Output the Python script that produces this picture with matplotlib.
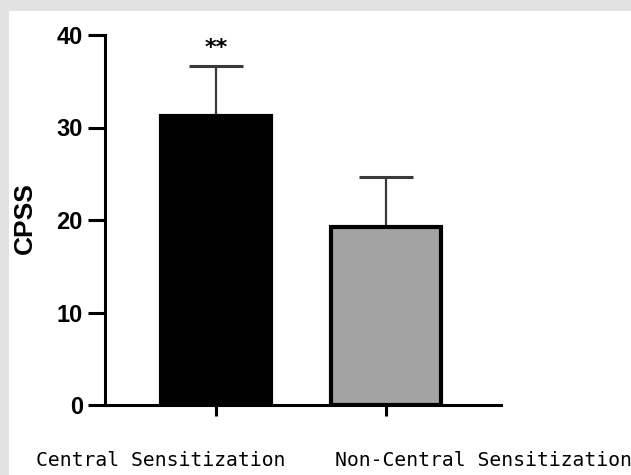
import matplotlib
matplotlib.use("Agg")
import matplotlib.pyplot as plt
import matplotlib.transforms as mtransforms
from matplotlib.patches import Rectangle

categories = ["Central Sensitization", "Non-Central Sensitization"]
means = [31.2, 19.2]
errors = [5.4, 5.5]
colors = ["#000000", "#a3a3a3"]
yticks = [0, 10, 20, 30, 40]
sig_label = "**"

fig = plt.figure(figsize=(6.31, 4.75), dpi=100)
fig.patch.set_facecolor("#e2e2e2")
fig.patches.append(Rectangle((9 / 631, 0), 1, 1 - 11 / 475, transform=fig.transFigure,
                             facecolor="white", edgecolor="none", zorder=-10))

ax = fig.add_axes([105 / 631, 70 / 475, (501 - 105) / 631, (405 - 35) / 475])
ax.set_facecolor("none")
x = list(range(len(categories)))
ax.bar(x, means, width=0.65, color=colors, edgecolor="black", linewidth=3, zorder=2)
ax.errorbar(x, means, yerr=[[0] * len(means), errors], fmt="none", ecolor="#3a3a3a",
            elinewidth=1.6, capsize=19.5, capthick=2.2, zorder=1)

ax.text(x[0], means[0] + errors[0] + 1.4, sig_label, ha="center", va="baseline",
        fontsize=16, fontweight="bold", family="DejaVu Sans")

ax.set_xlim(-0.655, 1.68)
ax.set_ylim(0, 40)
ax.set_yticks(yticks)
ax.set_yticklabels([str(t) for t in yticks], fontsize=17, fontweight="bold",
                   family="Liberation Sans")
ax.set_xticks(x)
ax.set_xticklabels(categories, fontsize=14.2, family="DejaVu Sans Mono")
ax.set_ylabel("CPSS", fontsize=19, fontweight="bold", family="Liberation Sans")
ax.yaxis.set_label_coords(-0.173, 0.505)

for s in ["top", "right"]:
    ax.spines[s].set_visible(False)
for s in ["left", "bottom"]:
    ax.spines[s].set_linewidth(2.2)
ax.tick_params(axis="y", length=12, width=2.2, pad=4)
ax.tick_params(axis="x", length=8, width=2.2, pad=25)

offsets = [-55, 98]
for lab, off in zip(ax.get_xticklabels(), offsets):
    lab.set_transform(lab.get_transform() + mtransforms.ScaledTranslation(off / 100, 0, fig.dpi_scale_trans))

fig.savefig("out.png", dpi=100, facecolor=fig.get_facecolor())
